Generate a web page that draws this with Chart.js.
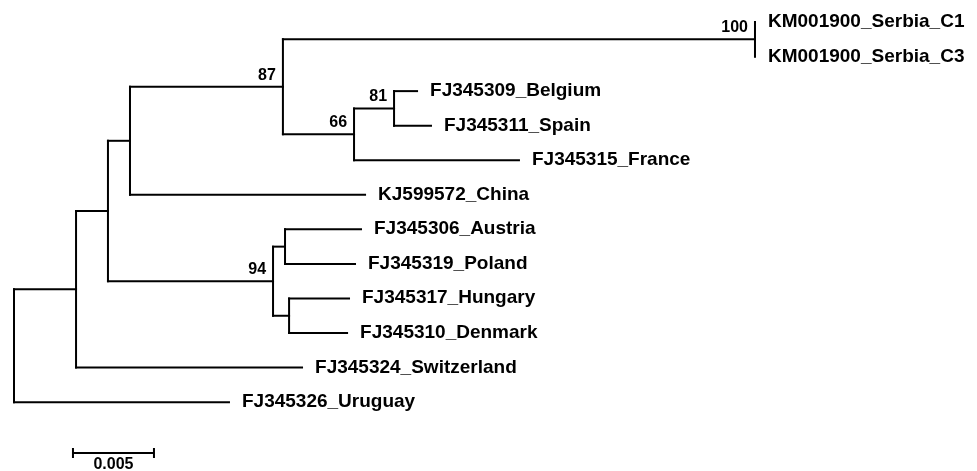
<!DOCTYPE html>
<html>
<head>
<meta charset="utf-8">
<script src="https://cdn.jsdelivr.net/npm/chart.js@4"></script>
<style>
  body { margin: 0; background: #fff; }
  #wrap { width: 977px; height: 471px; position: relative; }
</style>
</head>
<body>
<div id="wrap"><canvas id="treeChart"></canvas></div>
<script>
// Leaves, top to bottom
const taxa = [
    'KM001900_Serbia_C1', 'KM001900_Serbia_C3', 'FJ345309_Belgium', 'FJ345311_Spain',
    'FJ345315_France', 'KJ599572_China', 'FJ345306_Austria', 'FJ345319_Poland',
    'FJ345317_Hungary', 'FJ345310_Denmark', 'FJ345324_Switzerland', 'FJ345326_Uruguay'
];
// distance from root (substitutions/site) of each leaf tip
const taxonDepth = [0.04574, 0.04574, 0.02488, 0.02574, 0.03117, 0.02167, 0.02142, 0.02105, 0.02068, 0.02056, 0.01778, 0.01327];
const taxonParent = ['n100', 'n100', 'n81', 'n81', 'n66', 'nA', 'nAP', 'nAP', 'nHD', 'nHD', 'nC', 'root'];

// internal nodes
const nodeIds = ['root', 'nC', 'nB', 'nA', 'n87', 'n100', 'n66', 'n81', 'n94', 'nAP', 'nHD'];
const nodeDepth = [0, 0.00383, 0.00580, 0.00716, 0.01660, 0.04574, 0.02099, 0.02346, 0.01599, 0.01673, 0.01698];
const nodeParent = [null, 'root', 'nC', 'nB', 'nA', 'n87', 'n87', 'n66', 'nB', 'n94', 'n94'];
const bootstrap = [null, null, null, null, 87, 100, 66, 81, 94, null, null];

const scaleBarValue = 0.005;
const scaleBarLabel = '0.005';

document.addEventListener('DOMContentLoaded', function () {
    const depthOf = id => nodeDepth[nodeIds.indexOf(id)];

    // row of each node = middle of its first and last child
    const yCache = {};
    function nodeY(id) {
        if (id in yCache) return yCache[id];
        let ys = [];
        taxonParent.forEach((p, i) => { if (p === id) ys.push(i); });
        nodeParent.forEach((p, i) => { if (p === id) ys.push(nodeY(nodeIds[i])); });
        yCache[id] = (Math.min(...ys) + Math.max(...ys)) / 2;
        return yCache[id];
    }

    const segments = [];
    // horizontal branches to leaves
    taxa.forEach((t, i) => {
        segments.push([{ x: depthOf(taxonParent[i]), y: i }, { x: taxonDepth[i], y: i }]);
    });
    // horizontal branches to internal nodes + vertical connectors
    nodeIds.forEach((id, i) => {
        const y = nodeY(id);
        if (nodeParent[i]) {
            segments.push([{ x: depthOf(nodeParent[i]), y: y }, { x: nodeDepth[i], y: y }]);
        }
        let ys = [];
        taxonParent.forEach((p, k) => { if (p === id) ys.push(k); });
        nodeParent.forEach((p, k) => { if (p === id) ys.push(nodeY(nodeIds[k])); });
        segments.push([{ x: nodeDepth[i], y: Math.min(...ys) }, { x: nodeDepth[i], y: Math.max(...ys) }]);
    });

    const datasets = segments.map(seg => ({
        data: seg,
        showLine: true,
        borderColor: '#000',
        borderWidth: 2,
        borderCapStyle: 'square',
        pointRadius: 0,
        pointHoverRadius: 0
    }));

    const labelPlugin = {
        id: 'treeLabels',
        afterDatasetsDraw(chart) {
            const ctx = chart.ctx;
            const xs = chart.scales.x, ys = chart.scales.y;
            ctx.save();
            ctx.fillStyle = '#000';

            // leaf names
            ctx.font = 'bold 19px "Liberation Sans", Arial, sans-serif';
            ctx.textAlign = 'left';
            ctx.textBaseline = 'alphabetic';
            taxa.forEach((t, i) => {
                ctx.fillText(t, xs.getPixelForValue(taxonDepth[i]) + 13, ys.getPixelForValue(i) + 5);
            });

            // bootstrap values
            ctx.font = 'bold 16px "Liberation Sans", Arial, sans-serif';
            ctx.textAlign = 'right';
            nodeIds.forEach((id, i) => {
                if (bootstrap[i] == null) return;
                ctx.fillText(String(bootstrap[i]), xs.getPixelForValue(nodeDepth[i]) - 7, ys.getPixelForValue(nodeY(id)) - 7);
            });

            // scale bar
            const x0 = xs.getPixelForValue(0.00364);
            const x1 = xs.getPixelForValue(0.00364 + scaleBarValue);
            const yb = 453;
            ctx.strokeStyle = '#000';
            ctx.lineWidth = 2;
            ctx.beginPath();
            ctx.moveTo(x0, yb); ctx.lineTo(x1, yb);
            ctx.moveTo(x0, yb - 5); ctx.lineTo(x0, yb + 5);
            ctx.moveTo(x1, yb - 5); ctx.lineTo(x1, yb + 5);
            ctx.stroke();
            ctx.textAlign = 'center';
            ctx.font = 'bold 16px "Liberation Sans", Arial, sans-serif';
            ctx.fillText(scaleBarLabel, (x0 + x1) / 2, 469);
            ctx.restore();
        }
    };

    new Chart(document.getElementById('treeChart').getContext('2d'), {
        type: 'scatter',
        data: { datasets: datasets },
        options: {
            responsive: true,
            maintainAspectRatio: false,
            animation: false,
            layout: { padding: 0 },
            plugins: { legend: { display: false }, tooltip: { enabled: false } },
            scales: {
                x: { type: 'linear', display: false, min: -14 / 16200, max: 963 / 16200 },
                y: { type: 'linear', display: false, reverse: true, min: -22 / 34.56, max: 449 / 34.56 }
            }
        },
        plugins: [labelPlugin]
    });
});
</script>
</body>
</html>
